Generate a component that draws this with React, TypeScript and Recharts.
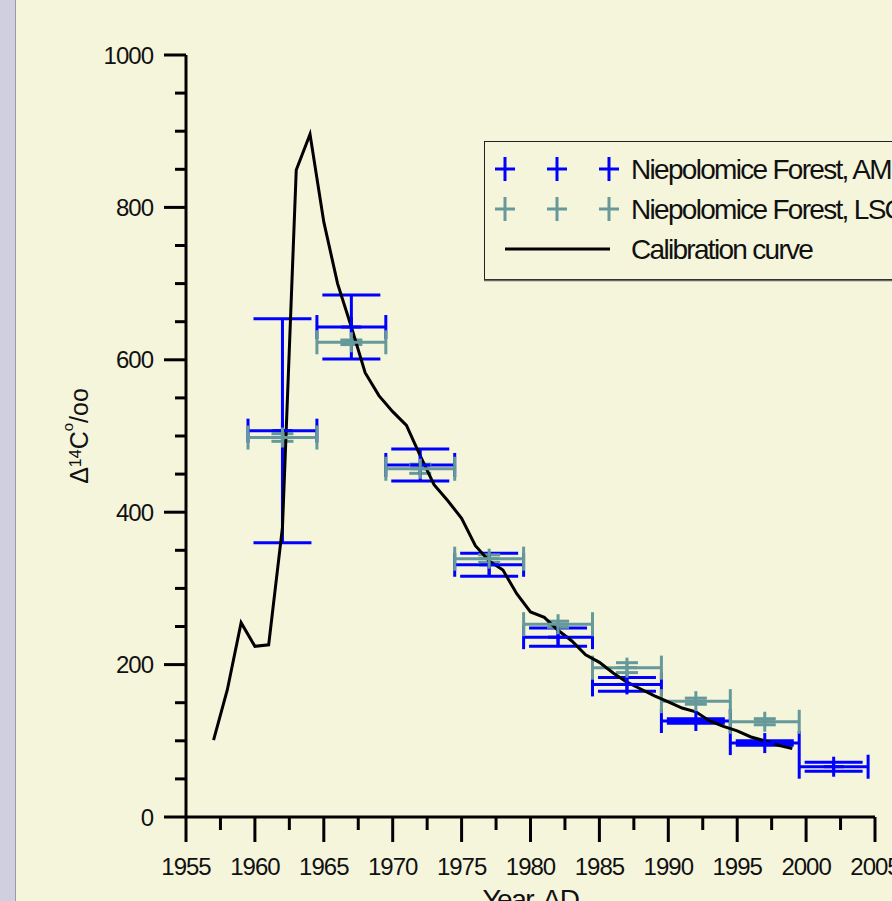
import React from 'react';
import { ComposedChart, Line, Scatter, XAxis, YAxis, ErrorBar, Legend, Label } from 'recharts';

// ---- data ----
const calibYears = [1957, 1958, 1959, 1960, 1961, 1962, 1963, 1964, 1965, 1966, 1967, 1968, 1969, 1970, 1971, 1972, 1973, 1974, 1975, 1976, 1977, 1978, 1979, 1980, 1981, 1982, 1983, 1984, 1985, 1986, 1987, 1988, 1989, 1990, 1991, 1992, 1993, 1994, 1995, 1996, 1997, 1998, 1999];
const calibValues = [101, 167, 255, 224, 226, 380, 849, 896, 781, 700, 643, 583, 553, 532, 514, 474, 436, 415, 392, 356, 336, 324, 293, 269, 262, 245, 231, 213, 203, 189, 177, 168, 159, 151, 143, 138, 126, 119, 113, 105, 100, 94, 90];

const amsYears = [1962, 1967, 1972, 1977, 1982, 1987, 1992, 1997, 2002];
const amsValues = [507, 643, 462, 331, 236, 174, 126, 97, 66];
const amsYErr = [147, 42, 21, 15, 12, 9, 3, 3, 6];
const amsXErr = [2.5, 2.5, 2.5, 2.5, 2.5, 2.5, 2.5, 2.5, 2.5];

const lscYears = [1962, 1967, 1972, 1977, 1982, 1987, 1992, 1997];
const lscValues = [498, 623, 457, 339, 253, 196, 152, 125];
const lscYErr = [5, 3, 6, 5, 4, 6.5, 4, 4];
const lscXErr = [2.5, 2.5, 2.5, 2.5, 2.5, 2.5, 2.5, 2.5];

const xTicks = [1955, 1957.5, 1960, 1962.5, 1965, 1967.5, 1970, 1972.5, 1975, 1977.5, 1980, 1982.5, 1985, 1987.5, 1990, 1992.5, 1995, 1997.5, 2000, 2002.5, 2005];
const yTicks = [0, 50, 100, 150, 200, 250, 300, 350, 400, 450, 500, 550, 600, 650, 700, 750, 800, 850, 900, 950, 1000];

const seriesNames = ['Niepolomice Forest, AMS', 'Niepolomice Forest, LSC', 'Calibration curve'];

const BLUE = '#0000ff';
const TEAL = '#669999';
const FONT = "'Liberation Sans', Arial, sans-serif";

const calibData = calibYears.map((year, i) => ({ year, v: calibValues[i] }));
const amsData = amsYears.map((year, i) => ({ year, v: amsValues[i], ye: amsYErr[i], xe: amsXErr[i] }));
const lscData = lscYears.map((year, i) => ({ year, v: lscValues[i], ye: lscYErr[i], xe: lscXErr[i] }));

const plusShape = (color: string) => (props: any) => {
  const { cx, cy } = props;
  if (cx == null || cy == null) return <g />;
  return (
    <g>
      <line x1={cx - 10} x2={cx + 10} y1={cy} y2={cy} stroke={color} strokeWidth={3} />
      <line x1={cx} x2={cx} y1={cy - 10} y2={cy + 10} stroke={color} strokeWidth={3} />
    </g>
  );
};

const YTick = (props: any) => {
  const { x, y, payload } = props;
  const v = payload.value;
  const major = v % 200 === 0;
  return (
    <g>
      <line x1={x} x2={x - (major ? 22 : 11)} y1={y} y2={y} stroke="#000" strokeWidth={3} />
      {major && (
        <text x={x - 33} y={y} dy="0.36em" textAnchor="end" fontSize={24} letterSpacing={-1} fontFamily={FONT} fill="#111">
          {v}
        </text>
      )}
    </g>
  );
};

const XTick = (props: any) => {
  const { x, y, payload } = props;
  const v = payload.value;
  const major = (v - 1955) % 5 === 0;
  return (
    <g>
      <line x1={x} x2={x} y1={y} y2={y + (major ? 25 : 13)} stroke="#000" strokeWidth={3} />
      {major && (
        <text x={x} y={y + 58} textAnchor="middle" fontSize={24} letterSpacing={-1} fontFamily={FONT} fill="#111">
          {v}
        </text>
      )}
    </g>
  );
};

const YTitle = (props: any) => {
  const vb = props.viewBox || { y: 55, height: 762 };
  const cy = vb.y + vb.height / 2;
  return (
    <text transform={`translate(88 ${cy}) rotate(-90)`} textAnchor="middle" fontSize={25} fontFamily={FONT} fill="#111">
      Δ<tspan fontSize={16} dy={-7}>14</tspan>
      <tspan dy={7}>C</tspan>
      <tspan fontSize={15} dy={-15}>o</tspan>
      <tspan dy={15}>/oo</tspan>
    </text>
  );
};

const XTitle = (props: any) => {
  const vb = props.viewBox || { x: 186, width: 689 };
  const cx = vb.x + vb.width / 2;
  return (
    <text x={cx} y={909} textAnchor="middle" fontSize={28} letterSpacing={-1.5} fontFamily={FONT} fill="#111">
      Year, AD
    </text>
  );
};

const LegendBox = (props: any) => {
  const payload = props.payload || [];
  const rows = seriesNames.map((name) => {
    const p = payload.find((e: any) => e.value === name);
    return { name, color: p ? p.color : '#000', type: p ? p.type : 'line' };
  });
  return (
    <svg width={420} height={141} style={{ display: 'block' }}>
      <rect x={0.5} y={0.5} width={440} height={138} fill="#f5f5dc" stroke="#222" strokeWidth={1} />
      <line x1={0} x2={440} y1={139.5} y2={139.5} stroke="#666" strokeWidth={1.5} />
      {rows.map((r, i) => {
        const cy = 28 + i * 40;
        return (
          <g key={r.name}>
            {r.type === 'line' ? (
              <line x1={21} x2={126} y1={cy} y2={cy} stroke={r.color} strokeWidth={3} />
            ) : (
              [21, 73, 125].map((mx) => (
                <g key={mx}>
                  <line x1={mx - 10} x2={mx + 10} y1={cy} y2={cy} stroke={r.color} strokeWidth={3} />
                  <line x1={mx} x2={mx} y1={cy - 12} y2={cy + 12} stroke={r.color} strokeWidth={3} />
                </g>
              ))
            )}
            <text x={147} y={cy + 10} fontSize={28} letterSpacing={-1.7} fontFamily={FONT} fill="#111">
              {r.name}
            </text>
          </g>
        );
      })}
    </svg>
  );
};

export default function App() {
  return (
    <div style={{ position: 'fixed', left: 0, top: 0, width: 892, height: 901, overflow: 'hidden', background: '#cfcfe0' }}>
      <div style={{ position: 'absolute', left: 15, top: 0, width: 1, height: 901, background: '#9a9aa6' }} />
      <div style={{ position: 'absolute', left: 16, top: 0, width: 876, height: 901, background: '#f5f5dc' }} />
      <div style={{ position: 'absolute', left: 0, top: 0 }}>
        <ComposedChart width={892} height={901} margin={{ top: 55, right: 17, left: 0, bottom: 24 }}>
          <XAxis
            type="number"
            dataKey="year"
            domain={[1955, 2005]}
            ticks={xTicks}
            interval={0}
            allowDataOverflow
            height={60}
            axisLine={{ stroke: '#000', strokeWidth: 3 }}
            tickLine={false}
            tickSize={0}
            tickMargin={0}
            tick={<XTick />}
          >
            <Label content={<XTitle />} />
          </XAxis>
          <YAxis
            type="number"
            dataKey="v"
            domain={[0, 1000]}
            ticks={yTicks}
            interval={0}
            allowDataOverflow
            width={186}
            axisLine={{ stroke: '#000', strokeWidth: 3 }}
            tickLine={false}
            tickSize={0}
            tickMargin={0}
            tick={<YTick />}
          >
            <Label content={<YTitle />} />
          </YAxis>
          <Legend
            layout="horizontal"
            verticalAlign="middle"
            align="center"
            content={<LegendBox />}
            wrapperStyle={{ position: 'absolute', left: 484, top: 141, width: 420, height: 141 }}
          />
          <Scatter
            name={seriesNames[0]}
            data={amsData}
            dataKey="v"
            fill={BLUE}
            stroke={BLUE}
            legendType="cross"
            shape={plusShape(BLUE)}
            isAnimationActive={false}
          >
            <ErrorBar dataKey="ye" direction="y" width={29} stroke={BLUE} strokeWidth={3} isAnimationActive={false} />
            <ErrorBar dataKey="xe" direction="x" width={12} stroke={BLUE} strokeWidth={3} isAnimationActive={false} />
          </Scatter>
          <Scatter
            name={seriesNames[1]}
            data={lscData}
            dataKey="v"
            fill={TEAL}
            stroke={TEAL}
            legendType="cross"
            shape={plusShape(TEAL)}
            isAnimationActive={false}
          >
            <ErrorBar dataKey="ye" direction="y" width={11} stroke={TEAL} strokeWidth={3} isAnimationActive={false} />
            <ErrorBar dataKey="xe" direction="x" width={12} stroke={TEAL} strokeWidth={3} isAnimationActive={false} />
          </Scatter>
          <Line
            name={seriesNames[2]}
            data={calibData}
            dataKey="v"
            type="linear"
            stroke="#000"
            strokeWidth={3}
            dot={false}
            activeDot={false}
            legendType="line"
            isAnimationActive={false}
          />
        </ComposedChart>
      </div>
    </div>
  );
}
